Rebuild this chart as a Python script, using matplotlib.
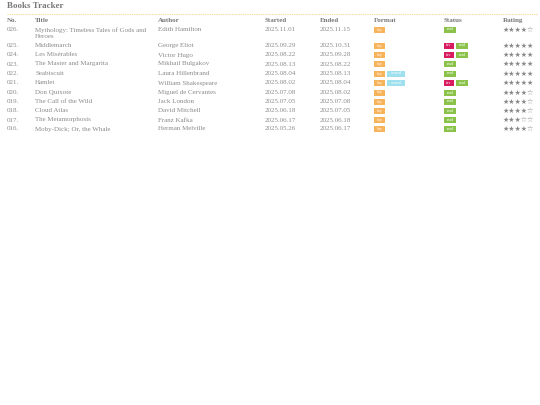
import matplotlib
matplotlib.use("Agg")
import matplotlib.pyplot as plt
from matplotlib.patches import Rectangle

nos = ["026.", "025.", "024.", "023.", "022.", "021.", "020.", "019.", "018.", "017.", "016."]
titles = ["Mythology: Timeless Tales of Gods and\nHeroes", "Middlemarch", "Les Misérables",
          "The Master and Margarita", "Seabiscuit", "Hamlet", "Don Quixote", "The Call of the Wild",
          "Cloud Atlas", "The Metamorphosis", "Moby-Dick; Or, the Whale"]
authors = ["Edith Hamilton", "George Eliot", "Victor Hugo", "Mikhail Bulgakov", "Laura Hillenbrand",
           "William Shakespeare", "Miguel de Cervantes", "Jack London", "David Mitchell", "Franz Kafka",
           "Herman Melville"]
started = ["2025.11.01", "2025.09.29", "2025.08.22", "2025.08.13", "2025.08.04", "2025.08.02",
           "2025.07.08", "2025.07.05", "2025.06.18", "2025.06.17", "2025.05.26"]
ended = ["2025.11.15", "2025.10.31", "2025.09.28", "2025.08.22", "2025.08.13", "2025.08.04",
         "2025.08.02", "2025.07.08", "2025.07.05", "2025.06.18", "2025.06.17"]
formats = [["buy"], ["buy"], ["buy"], ["buy"], ["buy", "owned"], ["buy", "owned"], ["buy"], ["buy"],
           ["buy"], ["buy"], ["buy"]]
statuses = [["read"], ["fav", "read"], ["fav", "read"], ["read"], ["read"], ["fav", "read"], ["read"],
            ["read"], ["read"], ["read"], ["read"]]
ratings = [4, 5, 5, 5, 5, 5, 4, 4, 4, 3, 4]
headers = ["No.", "Title", "Author", "Started", "Ended", "Format", "Status", "Rating"]

row_y = [29.5, 45.5, 55, 64, 73.5, 83, 92.5, 101.5, 111, 120, 129]
col_x = [7, 35, 158, 265, 320, 374, 444, 503]
badge_col = {"buy": "#f7b35a", "owned": "#9fe0ee", "fav": "#d81b60", "read": "#8bc34a"}
badge_w = {"buy": 11, "owned": 18, "fav": 10, "read": 12}

fig = plt.figure(figsize=(5.4, 4.05), dpi=100)
ax = fig.add_axes([0, 0, 1, 1])
ax.set_xlim(0, 540)
ax.set_ylim(405, 0)
ax.axis("off")
serif = "Liberation Serif"
gray = "#8a8a8a"

ax.text(7, 6, "Books Tracker", fontsize=6.5, fontweight="bold", color="#777", family=serif, va="center")
ax.plot([7, 538], [13.5, 13.5], color="#f0d890", lw=0.8, ls=(0, (1, 1)))
for x, h in zip(col_x, headers):
    ax.text(x, 20.5, h, fontsize=5, fontweight="bold", color="#777", family=serif, va="center")

def badges(x, y, items):
    for it in items:
        w = badge_w[it]
        ax.add_patch(Rectangle((x, y - 3), w, 6, color=badge_col[it], lw=0))
        ax.text(x + w / 2, y, it, fontsize=3, color="white", family=serif, ha="center", va="center")
        x += w + 2

for i, y in enumerate(row_y):
    ax.text(col_x[0], y, nos[i], fontsize=5, color=gray, family=serif, va="center")
    if "\n" in titles[i]:
        ax.text(col_x[1], y - 2.5, titles[i], fontsize=5, color=gray, family=serif, va="top", linespacing=1.3)
    else:
        ax.text(col_x[1], y, titles[i], fontsize=5, color=gray, family=serif, va="center")
    ax.text(col_x[2], y, authors[i], fontsize=5, color=gray, family=serif, va="center")
    ax.text(col_x[3], y, started[i], fontsize=5, color=gray, family=serif, va="center")
    ax.text(col_x[4], y, ended[i], fontsize=5, color=gray, family=serif, va="center")
    badges(col_x[5], y, formats[i])
    badges(col_x[6], y, statuses[i])
    ax.text(col_x[7], y, "★" * ratings[i] + "☆" * (5 - ratings[i]), fontsize=5, color="#888",
            family="DejaVu Sans", va="center")

fig.savefig("out.png", dpi=100, facecolor="white")
